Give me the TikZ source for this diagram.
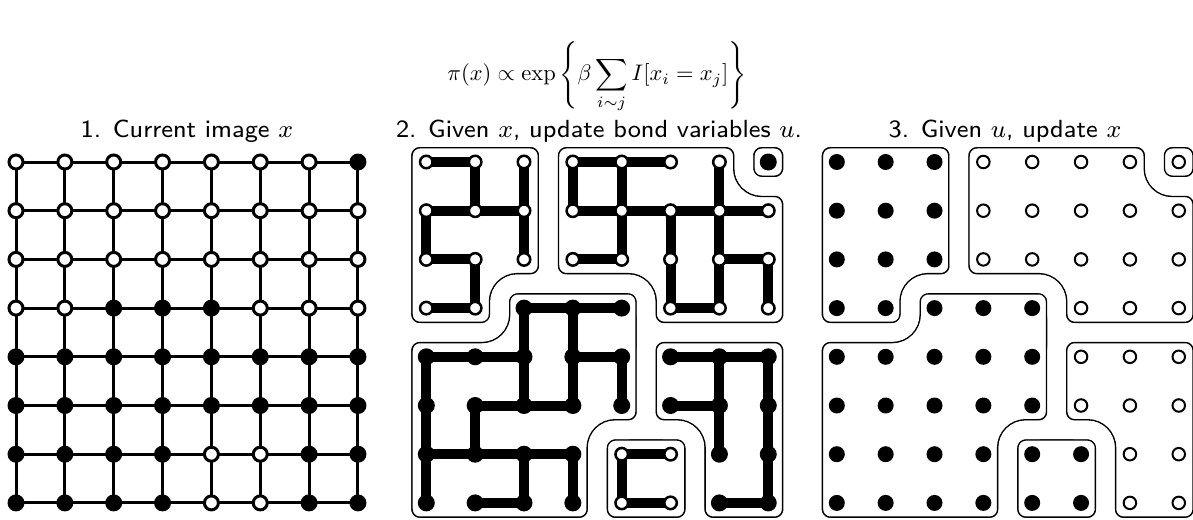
\documentclass[tikz,border=0pt]{standalone}
\usepackage{amsmath}
\def\clA{(1,-0.5) -- (2.5,-0.5) -- (2.5,2.5) -- (1.5,2.5) -- (1.5,3.5) -- (-0.5,3.5) -- (-0.5,-0.5) -- cycle}
\def\clB{(4.5,-0.5) -- (6.5,-0.5) -- (6.5,0.5) -- (7.5,0.5) -- (7.5,3.5) -- (4.5,3.5) -- (4.5,2.5) -- (2.5,2.5) -- (2.5,-0.5) -- cycle}
\def\clC{(7,-0.5) -- (7.5,-0.5) -- (7.5,0.5) -- (6.5,0.5) -- (6.5,-0.5) -- cycle}
\def\clD{(3,2.5) -- (4.5,2.5) -- (4.5,5.5) -- (3.5,5.5) -- (3.5,7.5) -- (-0.5,7.5) -- (-0.5,3.5) -- (1.5,3.5) -- (1.5,2.5) -- cycle}
\def\clE{(6,3.5) -- (7.5,3.5) -- (7.5,7.5) -- (5.5,7.5) -- (5.5,5.5) -- (4.5,5.5) -- (4.5,3.5) -- cycle}
\def\clF{(4.5,5.5) -- (5.5,5.5) -- (5.5,7.5) -- (3.5,7.5) -- (3.5,5.5) -- cycle}
\newcommand\clusterblack[1]{%
  \begin{scope}
    \clip[rounded corners=18pt] #1;
    \draw[line width=21.6pt, rounded corners=18pt] #1;
  \end{scope}}
\newcommand\clusterwhite[1]{%
  \draw[white, line width=18.4pt, rounded corners=18pt] #1;}
\newcommand\allclusters{%
  \clusterblack{\clA}\clusterblack{\clB}\clusterblack{\clC}%
  \clusterblack{\clD}\clusterblack{\clE}\clusterblack{\clF}%
  \clusterwhite{\clA}\clusterwhite{\clB}\clusterwhite{\clC}%
  \clusterwhite{\clD}\clusterwhite{\clE}\clusterwhite{\clF}}
\def\colsA{{0,0,0,0,0,0,0,1},{0,0,0,0,0,0,0,0},{0,0,0,0,0,0,0,0},{0,0,1,1,1,0,0,0},{1,1,1,1,1,1,1,1},{1,1,1,1,1,1,1,1},{1,1,1,1,0,0,1,1},{1,1,1,1,0,0,1,1}}
\def\colsC{{1,1,1,0,0,0,0,0},{1,1,1,0,0,0,0,0},{1,1,1,0,0,0,0,0},{1,1,1,1,1,0,0,0},{1,1,1,1,1,0,0,0},{1,1,1,1,1,0,0,0},{1,1,1,1,1,1,0,0},{1,1,1,1,1,1,0,0}}
\begin{document}
\begin{tikzpicture}[x=1pt,y=-1pt,
  bond/.style={line width=10pt},
  gridline/.style={line width=3pt},
  p1o/.style={circle,draw,line width=3pt,fill=white,inner sep=0pt,minimum size=14pt},
  p1f/.style={circle,fill,inner sep=0pt,minimum size=17pt},
  p2o/.style={circle,draw,line width=2.5pt,fill=white,inner sep=0pt,minimum size=12.5pt},
  p2f/.style={circle,fill,inner sep=0pt,minimum size=17pt},
  p3o/.style={circle,draw,line width=2pt,fill=white,inner sep=0pt,minimum size=12.5pt},
  p3f/.style={circle,fill,inner sep=0pt,minimum size=16pt},
  lab/.style={font=\footnotesize\sffamily, scale=3.1},
  ttl/.style={scale=2.25}]
\useasboundingbox (0,0) rectangle (1193,519);

% ---------- panel 1
\begin{scope}[shift={(16,162)},x=48.85pt,y=-48.7pt]
  \foreach \cc in {0,...,7} \foreach \rr in {0,...,7} \coordinate (a-\cc-\rr) at (\cc,\rr);
  \foreach \rr in {0,...,7} \draw[gridline] (a-0-\rr) -- (a-7-\rr);
  \foreach \cc in {0,...,7} \draw[gridline] (a-\cc-0) -- (a-\cc-7);
  \foreach \row [count=\rr from 0] in \colsA {
    \foreach \v [count=\cc from 0] in \row {
      \ifnum\v=1 \node[p1f] (A-\cc-\rr) at (a-\cc-\rr) {};
      \else \node[p1o] (A-\cc-\rr) at (a-\cc-\rr) {}; \fi
    }}
\end{scope}

% ---------- panel 2
\begin{scope}[shift={(426.3,162)},x=48.85pt,y=-48.7pt]
  \allclusters
  \foreach \cc in {0,...,7} \foreach \rr in {0,...,7} \coordinate (b-\cc-\rr) at (\cc,\rr);
  \foreach \a/\b/\cc/\d in {0/0/1/0, 1/0/1/1, 2/0/2/1, 0/1/1/1, 1/1/2/1, 0/1/0/2, 2/1/2/2, 0/2/1/2, 1/2/1/3, 0/3/1/3,
    3/0/4/0, 4/0/5/0, 3/0/3/1, 4/0/4/1, 6/0/6/1, 3/1/4/1, 4/1/5/1, 5/1/6/1, 6/1/7/1, 4/1/4/2, 5/1/5/2, 6/1/6/2, 3/2/4/2, 6/2/7/2, 5/2/5/3, 6/2/6/3, 7/2/7/3, 5/3/6/3,
    2/3/3/3, 3/3/4/3, 2/3/2/4, 3/3/3/4, 0/4/1/4, 1/4/2/4, 3/4/4/4, 4/4/4/5, 2/4/2/5, 3/4/3/5, 1/5/2/5, 2/5/3/5, 0/4/0/5, 0/5/0/6, 0/6/0/7, 1/5/1/6, 0/6/1/6, 1/6/2/6, 2/6/3/6, 2/6/2/7, 3/6/3/7, 1/7/2/7,
    5/4/6/4, 6/4/7/4, 5/5/6/5, 6/4/6/5, 6/5/6/6, 7/4/7/5, 7/5/7/6, 7/6/7/7, 6/7/7/7,
    4/6/5/6, 4/6/4/7, 4/7/5/7}
    \draw[bond] (b-\a-\b) -- (b-\cc-\d);
  \foreach \row [count=\rr from 0] in \colsA {
    \foreach \v [count=\cc from 0] in \row {
      \ifnum\v=1 \node[p2f] (B-\cc-\rr) at (b-\cc-\rr) {};
      \else \node[p2o] (B-\cc-\rr) at (b-\cc-\rr) {}; \fi
    }}
\end{scope}

% ---------- panel 3
\begin{scope}[shift={(836.8,162)},x=48.85pt,y=-48.7pt]
  \allclusters
  \foreach \row [count=\rr from 0] in \colsC {
    \foreach \v [count=\cc from 0] in \row {
      \ifnum\v=1 \node[p3f] (C-\cc-\rr) at (\cc,\rr) {};
      \else \node[p3o] (C-\cc-\rr) at (\cc,\rr) {}; \fi
    }}
\end{scope}

% ---------- texts
\node[ttl] (title) at (597,77) {$\displaystyle \pi(x)\propto\exp\Bigg\{\beta\sum_{i\sim j} I[x_i=x_j]\Bigg\}$};
\node[lab] (lab1) at (187,131) {1. Current image $x$};
\node[lab] (lab2) at (599,131) {2. Given $x$, update bond variables $u$.};
\node[lab] (lab3) at (1005,131) {3. Given $u$, update $x$};
\end{tikzpicture}
\end{document}
